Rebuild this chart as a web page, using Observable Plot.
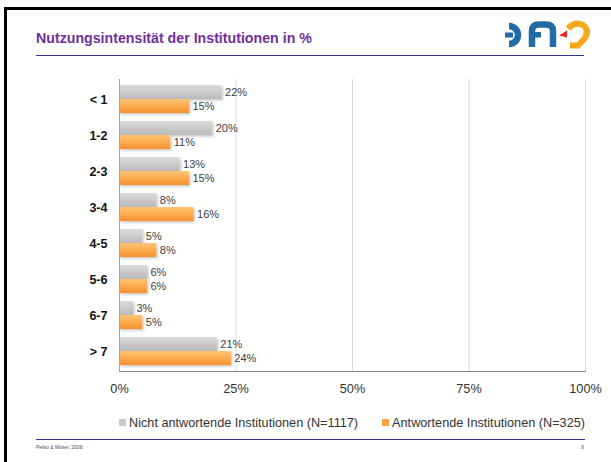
<!DOCTYPE html>
<html><head><meta charset="utf-8">
<script src="https://cdn.jsdelivr.net/npm/d3@7"></script>
<script src="https://cdn.jsdelivr.net/npm/@observablehq/plot@0.6"></script>
<style>
html,body{margin:0;padding:0;background:#fff;}
#slide{position:relative;width:611px;height:462px;overflow:hidden;background:#fff;font-family:"Liberation Sans",Arial,sans-serif;}
#slide svg.plot{position:absolute;left:0;top:0;}
.abs{position:absolute;}
</style>
</head><body>
<div id="slide">
  <div id="chart"></div>
  <div class="abs" style="left:4px;top:7px;right:0;bottom:0;border-top:3px solid #000;border-left:3px solid #000;"></div>
  <div class="abs" id="title" style="left:36px;top:30px;font-size:14.2px;font-weight:bold;color:#7030A0;white-space:nowrap;"></div>
  <div class="abs" style="left:36px;top:55px;width:548px;height:0;border-top:1px solid #333399;"></div>
  <svg class="abs" style="left:500px;top:16px;" width="100" height="36" viewBox="500 16 100 36">
    <path d="M509,26 A9,9 0 1 1 509,44" fill="none" stroke="#236ba6" stroke-width="6.5"/>
    <rect x="505" y="32.5" width="8" height="5" fill="#236ba6"/>
    <path d="M532,47 V31 Q532,24.5 539,24.5 H546 Q553,24.5 553,31 V47" fill="none" stroke="#236ba6" stroke-width="6.5"/>
    <rect x="535" y="32" width="6" height="5.5" fill="#236ba6"/>
    <path d="M567,30.5 L559,35.5 L567,37.5 Z" fill="#e3262e"/>
    <path d="M568,28.5 Q575,21 583,25 Q590,30.5 584.5,38.5 L578,45.5 L570,45.5" fill="none" stroke="#f6a81c" stroke-width="6"/>
  </svg>
  <div class="abs" id="legend" style="left:119px;width:466px;top:416px;text-align:center;font-size:12.7px;color:#333;white-space:nowrap;"></div>
  <div class="abs" style="left:36px;top:439px;width:549px;height:0;border-top:1px solid #333399;"></div>
  <div class="abs" id="footer" style="left:36px;top:444px;font-size:5px;color:#555;"></div>
  <div class="abs" id="pagenum" style="left:581px;top:444px;font-size:5px;color:#555;"></div>
</div>
<script>
const titleText = "Nutzungsintensität der Institutionen in %";
const categories = ["< 1", "1-2", "2-3", "3-4", "4-5", "5-6", "6-7", "> 7"];
const nichtAntwortend = [22, 20, 13, 8, 5, 6, 3, 21];
const antwortend = [15, 11, 15, 16, 8, 6, 5, 24];
const xTicks = [0, 25, 50, 75, 100];
const seriesNames = ["Nicht antwortende Institutionen (N=1117)", "Antwortende Institutionen (N=325)"];
const seriesColors = ["#c9c9c9", "#f9a23f"];
const footerText = "Petko & Moser, 2008";
const pageNumber = "9";

document.getElementById("title").textContent = titleText;
document.getElementById("footer").textContent = footerText;
document.getElementById("pagenum").textContent = pageNumber;

const legend = document.getElementById("legend");
seriesNames.forEach((name, i) => {
  const item = document.createElement("span");
  item.style.display = "inline-block";
  item.style.margin = i === 0 ? "0 24px 0 0" : "0";
  const sw = document.createElement("span");
  sw.style.cssText = `display:inline-block;width:7px;height:7px;background:${seriesColors[i]};margin-right:3px;vertical-align:1px;`;
  item.appendChild(sw);
  item.appendChild(document.createTextNode(name));
  legend.appendChild(item);
});

const rows = categories.map((c, i) => ({cat: c, a: nichtAntwortend[i], b: antwortend[i]}));

const plot = Plot.plot({
  width: 611,
  height: 462,
  marginLeft: 119,
  marginRight: 26,
  marginTop: 79,
  marginBottom: 91,
  style: {background: "transparent", fontFamily: "'Liberation Sans', Arial, sans-serif", fontSize: "12.7px", color: "#868686", overflow: "visible"},
  x: {domain: [0, 100], ticks: xTicks, tickFormat: d => d + "%", tickSize: 0, tickPadding: 12, label: null, line: true},
  y: {domain: categories, paddingInner: 0.233, paddingOuter: 0.117, tickSize: 0, tickPadding: 12, label: null},
  marks: [
    Plot.ruleX(xTicks.filter(d => d > 0), {stroke: "#d9d9d9"}),
    Plot.barX(rows, {y: "cat", x: "a", fill: seriesColors[0], insetBottom: 14}),
    Plot.barX(rows, {y: "cat", x: "b", fill: seriesColors[1], insetTop: 14}),
    Plot.ruleX([0], {stroke: "#a6a6a6"}),
    Plot.text(rows, {y: "cat", x: "a", text: d => d.a + "%", dx: 3, dy: -7, textAnchor: "start", fill: "#404040", fontSize: 11}),
    Plot.text(rows, {y: "cat", x: "b", text: d => d.b + "%", dx: 3, dy: 7, textAnchor: "start", fill: "#404040", fontSize: 11})
  ]
});
plot.classList.add("plot");
document.getElementById("chart").appendChild(plot);

const svg = d3.select(plot);
const defs = svg.insert("defs", ":first-child");
const g1 = defs.append("linearGradient").attr("id", "gGray").attr("x1", 0).attr("x2", 0).attr("y1", 0).attr("y2", 1);
g1.append("stop").attr("offset", "0%").attr("stop-color", "#dcdcdc");
g1.append("stop").attr("offset", "100%").attr("stop-color", "#bababa");
const g2 = defs.append("linearGradient").attr("id", "gOrange").attr("x1", 0).attr("x2", 0).attr("y1", 0).attr("y2", 1);
g2.append("stop").attr("offset", "0%").attr("stop-color", "#ffc574");
g2.append("stop").attr("offset", "100%").attr("stop-color", "#f7922c");
const f = defs.append("filter").attr("id", "shadow").attr("x", "-10%").attr("y", "-30%").attr("width", "130%").attr("height", "180%");
f.append("feDropShadow").attr("dx", 1.5).attr("dy", 1.5).attr("stdDeviation", 0.8).attr("flood-color", "#000").attr("flood-opacity", 0.22);

const barGroups = plot.querySelectorAll('g[aria-label="bar"]');
if (barGroups.length >= 2) {
  barGroups[0].setAttribute("fill", "url(#gGray)");
  barGroups[0].querySelectorAll("rect").forEach(r => r.setAttribute("fill", "url(#gGray)"));
  barGroups[1].setAttribute("fill", "url(#gOrange)");
  barGroups[1].querySelectorAll("rect").forEach(r => r.setAttribute("fill", "url(#gOrange)"));
  barGroups.forEach(g => g.setAttribute("filter", "url(#shadow)"));
}
svg.selectAll("text").each(function() {
  const t = this.textContent;
  if (categories.includes(t)) {
    d3.select(this).attr("fill", "#111").attr("font-weight", "bold").attr("font-size", "12.5px");
  } else if (/^\d+%$/.test(t) && !this.closest('g[aria-label="text"]')) {
    d3.select(this).attr("fill", "#333");
  }
});
</script>
</body></html>
